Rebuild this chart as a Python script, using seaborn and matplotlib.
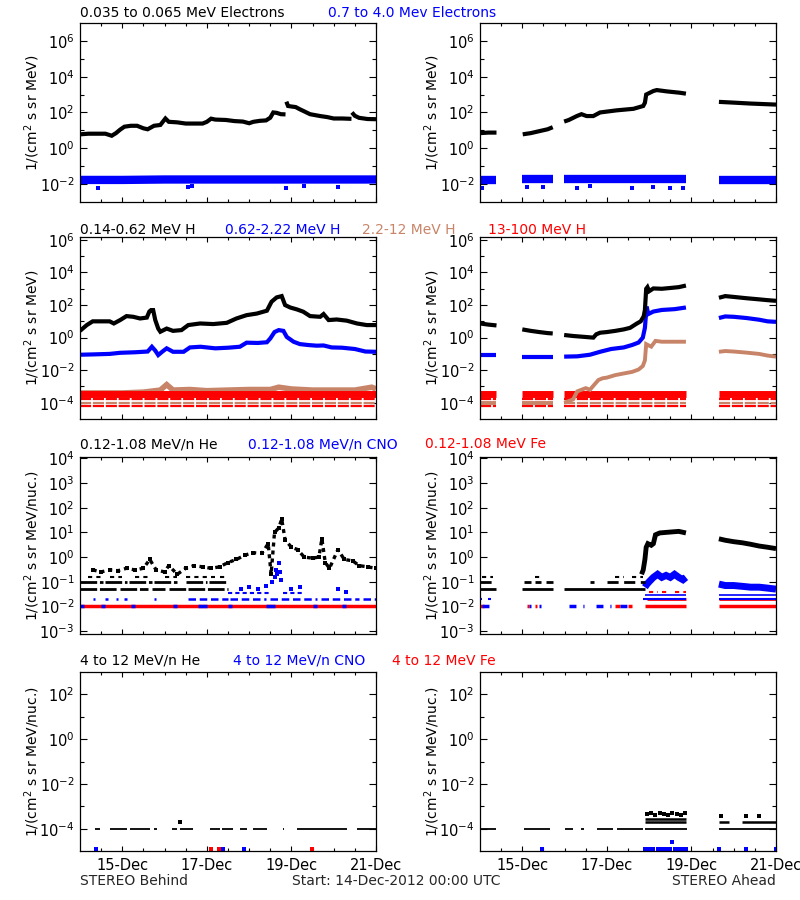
import numpy as np
import pandas as pd
import matplotlib
matplotlib.use("Agg")
import matplotlib.pyplot as plt
import seaborn as sns
from matplotlib.ticker import FixedLocator, NullFormatter, LogFormatterSciNotation

sns.set_theme(style="white")
plt.rcParams['font.family'] = ['DejaVu Sans']
plt.rcParams['mathtext.fontset'] = 'dejavusans'

nan = np.nan
BLACK, BLUE, BROWN, RED = "#000000", "#0000FF", "#C88468", "#FF0000"

# ---------------- time axis (days since 14-Dec-2012 00:00) ----------------
day_ticks = [1, 3, 5, 7]
day_labels = ["15-Dec", "17-Dec", "19-Dec", "21-Dec"]
half_day_ticks = [0.5, 1.5, 2, 2.5, 3.5, 4, 4.5, 5.5, 6, 6.5]

# ---------------- Row 1: electrons ----------------
# STEREO Behind, 0.035-0.065 MeV electrons
eB_lo_t = [0, 0.2, 0.4, 0.6, 0.75, 0.85, 0.95, 1.05, 1.2, 1.35, 1.5, 1.6, 1.75, 1.9, 2.02, 2.1, 2.3, 2.5,
           2.7, 2.9, 3.0, 3.1, 3.2, 3.45, 3.65, 3.85, 4.0, 4.1, 4.25, 4.4, 4.5, 4.57, 4.65, 4.75, 4.86, nan,
           4.88, 4.92, 5.0, 5.1, 5.2, 5.32, 5.44, 5.68, 5.85, 6.0, 6.2, 6.42, nan,
           6.43, 6.5, 6.6, 6.8, 7.0]
eB_lo_v = [6, 6.5, 6.5, 6.5, 5, 7, 11, 16, 18, 18, 13, 11.5, 18, 20, 46, 30, 28, 24,
           24, 24, 30, 45, 40, 38, 33, 31, 25, 30, 34, 36, 51, 100, 95, 80, 78, nan,
           400, 230, 215, 200, 150, 110, 80, 63, 55, 46, 46, 44, nan,
           100, 65, 50, 43, 42]
# STEREO Behind, 0.7-4.0 MeV electrons
eB_hi_t = [0, 1, 2, 3, 4, 5, 6, 7]
eB_hi_v = [0.017, 0.017, 0.018, 0.018, 0.018, 0.018, 0.018, 0.018]
eB_hi_out_t = [0.42, 2.55, 2.65, 4.88, 5.3, 6.1]
eB_hi_out_v = [0.006, 0.007, 0.008, 0.006, 0.008, 0.007]

# STEREO Ahead, 0.035-0.065 MeV electrons
eA_lo_t = [0, 0.2, 0.39, nan, 1.01, 1.2, 1.4, 1.6, 1.72, nan,
           1.99, 2.1, 2.29, 2.4, 2.52, 2.68, 2.84, 3.23, 3.63, 3.86, 3.9, 3.93, 4.1, 4.18, 4.42, 4.73, 4.87, nan,
           5.65, 5.99, 6.39, 7.0]
eA_lo_v = [7, 7.5, 7.5, nan, 6, 7, 9, 11.5, 15, nan,
           31, 38, 63, 80, 63, 63, 100, 131, 160, 230, 350, 1000, 1580, 1780, 1500, 1260, 1120, nan,
           390, 355, 315, 275]
# STEREO Ahead, 0.7-4.0 MeV electrons
eA_hi_t = [0, 0.39, nan, 1.0, 1.72, nan, 1.99, 3.0, 4.0, 4.87, nan, 5.65, 6.3, 7.0]
eA_hi_v = [0.017, 0.017, nan, 0.018, 0.018, nan, 0.018, 0.018, 0.018, 0.018, nan, 0.017, 0.017, 0.017]
eA_hi_out_t = [0.05, 1.1, 1.5, 2.3, 2.6, 3.6, 4.1, 4.5, 4.8]
eA_hi_out_v = [0.006, 0.007, 0.007, 0.006, 0.008, 0.006, 0.007, 0.006, 0.006]

# ---------------- Row 2: protons ----------------
hB_1_t = [0, 0.16, 0.3, 0.5, 0.7, 0.8, 0.95, 1.1, 1.26, 1.42, 1.58, 1.64, 1.68, 1.73, 1.78, 1.85, 1.9, 2.05,
          2.2, 2.4, 2.56, 2.84, 3.15, 3.47, 3.7, 3.94, 4.18, 4.42, 4.53, 4.65, 4.77, 4.85, 4.97, 5.13, 5.28,
          5.44, 5.68, 5.76, 5.88, 6.07, 6.31, 6.55, 6.78, 7.0]
hB_1_v = [2.6, 5.9, 10, 10, 10, 7.4, 12, 21, 19, 15, 17, 40, 49, 49, 12, 3.6, 2.3, 3.6,
          2.6, 2.9, 5.9, 7.4, 6.8, 8.1, 15, 24, 30, 45, 160, 295, 355, 100, 71, 54, 39,
          21, 19, 28, 12, 13, 11, 7.4, 5.9, 5.9]
hB_2_t = [0, 0.3, 0.7, 0.95, 1.3, 1.6, 1.7, 1.78, 1.85, 1.95, 2.05, 2.2, 2.45, 2.6, 2.85, 3.0, 3.2, 3.5,
          3.78, 3.94, 4.2, 4.42, 4.5, 4.6, 4.7, 4.81, 4.89, 5.05, 5.2, 5.4, 5.6, 5.76, 5.95, 6.2, 6.5, 6.75, 7.0]
hB_2_v = [0.089, 0.093, 0.1, 0.117, 0.126, 0.14, 0.275, 0.16, 0.085, 0.14, 0.22, 0.135, 0.135, 0.25, 0.275,
          0.25, 0.22, 0.24, 0.275, 0.49, 0.47, 0.52, 0.89, 2.2, 2.9, 2.6, 1.1, 0.56, 0.4, 0.35, 0.32, 0.33,
          0.25, 0.24, 0.2, 0.14, 0.135]
hB_3_t = [0, 1, 1.5, 1.9, 2.05, 2.2, 2.6, 3.0, 3.5, 4.0, 4.5, 4.7, 5.0, 5.5, 6.0, 6.5, 6.9, 7.0]
hB_3_v = [4e-4, 4e-4, 4.5e-4, 6e-4, 1.3e-3, 6e-4, 6.5e-4, 5.5e-4, 6e-4, 6.5e-4, 6.5e-4, 9e-4, 7e-4, 6e-4,
          6e-4, 6e-4, 9e-4, 7e-4]
hB_4_t = [0, 1, 2, 3, 4, 5, 6, 7]
hB_4_v = [3.6e-4, 3.6e-4, 3.6e-4, 3.6e-4, 3.6e-4, 3.6e-4, 3.6e-4, 3.6e-4]

hA_1_t = [0, 0.2, 0.39, nan, 1.0, 1.2, 1.4, 1.6, 1.72, nan,
          1.99, 2.2, 2.45, 2.68, 2.75, 2.84, 3.0, 3.2, 3.4, 3.55, 3.7, 3.8, 3.87, 3.9, 3.93, 3.96, 4.0, 4.1,
          4.3, 4.5, 4.7, 4.87, nan, 5.65, 5.8, 6.0, 6.3, 6.6, 6.8, 7.0]
hA_1_v = [7.4, 6.3, 5.6, nan, 3.2, 2.6, 2.2, 1.9, 1.8, nan,
          1.45, 1.26, 1.12, 1.0, 1.6, 2.0, 2.2, 2.6, 3.2, 4.0, 7.1, 10, 20, 50, 1000, 1260, 710, 1050,
          1000, 1120, 1260, 1580, nan, 280, 355, 316, 263, 224, 200, 182]
hA_2_t = [0, 0.39, nan, 1.0, 1.72, nan,
          1.99, 2.3, 2.6, 2.84, 3.1, 3.4, 3.6, 3.75, 3.85, 3.9, 3.94, 3.98, 4.1, 4.3, 4.6, 4.87, nan,
          5.65, 5.8, 6.0, 6.3, 6.6, 6.8, 7.0]
hA_2_v = [0.085, 0.085, nan, 0.068, 0.068, nan,
          0.068, 0.071, 0.089, 0.135, 0.2, 0.25, 0.355, 0.5, 1.0, 4.0, 80, 28, 40, 50, 56, 71, nan,
          16, 20, 19, 16, 12.6, 10, 9.3]
hA_3_t = [0, 0.39, nan, 1.0, 1.72, nan,
          1.99, 2.2, 2.3, 2.4, 2.5, 2.6, 2.7, 2.8, 2.9, 3.0, 3.2, 3.4, 3.6, 3.75, 3.85, 3.9, 3.93, 3.97,
          4.05, 4.15, 4.3, 4.5, 4.7, 4.87, nan, 5.65, 5.8, 6.0, 6.3, 6.6, 6.8, 7.0]
hA_3_v = [1e-4, 1e-4, nan, 1e-4, 1e-4, nan,
          1e-4, 1.6e-4, 5e-4, 6.3e-4, 7.9e-4, 6.3e-4, 1.26e-3, 2.5e-3, 3.2e-3, 3.5e-3, 5e-3, 6.3e-3, 7.9e-3,
          0.011, 0.018, 0.04, 0.4, 0.35, 0.28, 0.63, 0.56, 0.56, 0.56, 0.56, nan,
          0.135, 0.15, 0.14, 0.12, 0.1, 0.079, 0.068]
hA_4_t = [0, 0.39, nan, 1.0, 1.72, nan, 1.99, 3.0, 4.0, 4.87, nan, 5.65, 6.3, 7.0]
hA_4_v = [3.6e-4, 3.6e-4, nan, 3.6e-4, 3.6e-4, nan, 3.6e-4, 3.6e-4, 3.6e-4, 3.6e-4, nan, 3.6e-4, 3.6e-4, 3.6e-4]

# quantised low-count levels of the 2.2-12 and 13-100 MeV channels: (level, start, end)
p_levels_B = [(1.8e-4, 0, 7, RED), (1.0e-4, 0, 7, BROWN), (6.3e-5, 0, 7, RED)]
ahead_segments = [(0, 0.39), (1.0, 1.72), (1.99, 4.87), (5.65, 7.0)]

# ---------------- Row 3: 0.12-1.08 MeV/n ----------------
heB_t = [0.3, 0.5, 0.7, 0.9, 1.1, 1.3, 1.5, 1.65, 1.8, 2.0, 2.1, 2.3, 2.5, 2.7, 2.9, 3.1, 3.3, 3.5, 3.7, 3.9,
         4.1, 4.3, 4.45, 4.52, 4.6, 4.7, 4.77, 4.85, 5.0, 5.15, 5.3, 5.5, 5.65, 5.72, 5.8, 5.9, 6.1, 6.25,
         6.45, 6.6, 6.8, 7.0]
heB_v = [0.3, 0.25, 0.3, 0.28, 0.35, 0.3, 0.35, 0.8, 0.3, 0.25, 0.45, 0.2, 0.35, 0.45, 0.4, 0.35, 0.4, 0.6,
         0.8, 1.2, 1.5, 1.4, 3.5, 0.2, 10, 15, 35, 5, 2.5, 2, 1.0, 0.9, 1.0, 5.5, 0.6, 0.35, 2.0, 0.8,
         0.7, 0.45, 0.4, 0.35]
heB_lvl_016 = [(0.2, 0.5), (0.7, 1.0), (1.3, 1.6), (2.0, 2.3), (2.5, 3.2), (3.3, 3.5)]
heB_lvl_01 = [(0, 0.55), (0.6, 1.1), (1.15, 1.7), (1.75, 2.3), (2.5, 3.0), (3.05, 3.45)]
heB_lvl_005 = [(0, 0.9), (0.95, 1.6), (1.7, 2.0), (2.1, 2.5), (2.55, 3.5)]
cnoB_t = [4.55, 4.6, 4.63, 4.66, 4.7, 4.72, 4.75, 3.8, 4.0, 4.2, 4.4, 5.0, 5.2, 6.1, 6.3]
cnoB_v = [0.1, 0.15, 0.3, 0.2, 0.6, 0.25, 0.12, 0.05, 0.06, 0.05, 0.07, 0.05, 0.06, 0.05, 0.04]
cnoB_lvl_002 = [(0.3, 0.36), (0.6, 0.66), (0.85, 0.9), (1.05, 1.1), (1.75, 1.8), (2.55, 3.5), (3.55, 4.4),
                (4.5, 5.6), (5.7, 6.6), (6.7, 7.0)]
cnoB_lvl_0035 = [(3.5, 4.5), (4.8, 5.3)]
cnoB_lvl_001 = [(0, 0.1), (0.5, 0.6), (1.2, 1.3), (2.2, 2.3), (2.8, 3.0), (3.5, 3.6), (4.4, 4.6), (5.5, 5.6),
                (6.2, 6.3)]
feB_lvl_001 = [(0, 7.0)]

heA_t = [3.82, 3.86, 3.9, 3.93, 3.97, 4.05, 4.1, 4.15, 4.25, 4.4, 4.55, 4.7, 4.87, nan,
         5.65, 5.8, 6.0, 6.2, 6.4, 6.6, 6.8, 7.0]
heA_v = [0.2, 0.3, 0.8, 2.5, 3.5, 3, 3.5, 8, 9.5, 10, 10.5, 11, 9.5, nan,
         5.5, 4.8, 4.2, 3.8, 3.3, 2.8, 2.5, 2.2]
heA_lvl_016 = [(0.05, 0.3), (1.3, 1.5), (3.2, 3.4), (3.6, 3.85)]
heA_lvl_01 = [(0, 0.39), (1.05, 1.2), (1.3, 1.45), (1.55, 1.72), (2.6, 2.7), (3.0, 3.9)]
heA_lvl_005 = [(0, 0.39), (1.0, 1.72), (1.99, 3.9)]
cnoA_t = [3.9, 3.95, 4.0, 4.1, 4.2, 4.3, 4.4, 4.5, 4.6, 4.7, 4.8, 4.87, nan,
          5.65, 5.8, 6.0, 6.2, 6.4, 6.6, 6.8, 7.0]
cnoA_v = [0.06, 0.08, 0.1, 0.15, 0.2, 0.15, 0.18, 0.15, 0.2, 0.15, 0.12, 0.15, nan,
          0.08, 0.07, 0.07, 0.065, 0.06, 0.06, 0.055, 0.05]
cnoA_lvl_003 = [(3.9, 4.87), (5.65, 7.0)]
cnoA_lvl_002 = [(0.0, 0.05), (0.2, 0.25), (3.85, 4.87), (5.65, 7.0)]
cnoA_lvl_001 = [(0.05, 0.35), (1.15, 1.2), (1.4, 1.45), (2.1, 2.45), (2.75, 3.1), (3.3, 3.6)]
feA_lvl_001 = [(0, 0.1), (1.1, 1.15), (1.3, 1.35), (3.2, 3.3), (3.5, 3.6), (3.9, 4.87), (5.65, 7.0)]
feA_lvl_002 = [(3.95, 4.87), (5.65, 7.0)]
feA_lvl_004 = [(4.0, 4.2), (4.3, 4.5), (4.6, 4.87)]

# ---------------- Row 4: 4-12 MeV/n ----------------
he4B_lvl = [(0.35, 0.47), (0.71, 1.1), (1.18, 1.66), (1.74, 1.81), (2.17, 2.29), (2.37, 2.68), (3.08, 3.31),
            (3.35, 3.63), (3.79, 3.94), (4.1, 4.42), (4.8, 4.83), (5.13, 6.31), (6.55, 7.0)]
he4B_pt_t = [2.37]
he4B_pt_v = [2.0e-4]
cno4B_t = [0.39, 3.3, 3.37, 3.89]
cno4B_v = [1.2e-5, 1.2e-5, 1.2e-5, 1.2e-5]
fe4B_t = [3.1, 3.28, 5.48]
fe4B_v = [1.2e-5, 1.2e-5, 1.2e-5]

he4A_lvl = [(0, 0.39), (1.03, 1.66), (2.0, 2.2), (2.4, 2.45), (2.76, 3.15), (3.23, 3.86), (3.9, 4.89),
            (5.65, 7.0)]
he4A_lvl2 = [(3.9, 4.87), (5.65, 5.9), (6.2, 7.0)]
he4A_lvl3 = [(3.9, 4.87)]
he4A_pts_t = [3.95, 4.05, 4.15, 4.25, 4.35, 4.45, 4.55, 4.65, 4.75, 4.85, 5.7, 6.3, 6.6]
he4A_pts_v = [4.5e-4, 5e-4, 4e-4, 5e-4, 4.5e-4, 4e-4, 5e-4, 4.5e-4, 4e-4, 5e-4, 3.5e-4, 3.5e-4, 3.5e-4]
cno4A_t = [1.47, 3.9, 4.0, 4.1, 4.2, 4.3, 4.4, 4.5, 4.55, 4.6, 4.7, 4.8, 4.87, 5.65, 6.3, 7.0]
cno4A_v = [1.2e-5, 1.2e-5, 1.2e-5, 1.2e-5, 1.2e-5, 1.2e-5, 1.2e-5, 1.2e-5, 2.5e-5, 1.2e-5, 1.2e-5, 1.2e-5,
           1.2e-5, 1.2e-5, 1.2e-5, 1.2e-5]

titles = [
    [("0.035 to 0.065 MeV Electrons", BLACK, 80), ("0.7 to 4.0 Mev Electrons", BLUE, 328)],
    [("0.14-0.62 MeV H", BLACK, 80), ("0.62-2.22 MeV H", BLUE, 225), ("2.2-12 MeV H", BROWN, 362),
     ("13-100 MeV H", RED, 488)],
    [("0.12-1.08 MeV/n He", BLACK, 80), ("0.12-1.08 MeV/n CNO", BLUE, 248), ("0.12-1.08 MeV Fe", RED, 425)],
    [("4 to 12 MeV/n He", BLACK, 80), ("4 to 12 MeV/n CNO", BLUE, 233), ("4 to 12 MeV Fe", RED, 392)],
]
ylab1 = "1/(cm$^2$ s sr MeV)"
ylab2 = "1/(cm$^2$ s sr MeV/nuc.)"


# ---------------- helpers ----------------
def trace(ax, t, v, color, lw, ls="-"):
    t = np.asarray(t, float)
    v = np.asarray(v, float)
    seg = np.cumsum(np.isnan(v))
    df = pd.DataFrame({"t": t, "v": v, "seg": seg}).dropna()
    sns.lineplot(data=df, x="t", y="v", units="seg", estimator=None, sort=False, color=color,
                 lw=lw, linestyle=ls, solid_capstyle="butt", dash_capstyle="butt",
                 solid_joinstyle="miter", ax=ax, legend=False)


def level(ax, spans, y, color, lw, ls="-"):
    t, v = [], []
    for a, b in spans:
        t += [a, b, nan]
        v += [y, y, nan]
    trace(ax, t, v, color, lw, ls)


def dots(ax, t, v, color, s=6):
    sns.scatterplot(x=t, y=v, color=color, marker="s", s=s, linewidth=0, ax=ax, legend=False)


fig = plt.figure(figsize=(8, 9), dpi=100)
W = 0.37
rows = [(0.7756, 0.1989), (0.5344, 0.2022), (0.2956, 0.1967), (0.0544, 0.1989)]
axes = [[fig.add_axes([0.10, y, W, h]), fig.add_axes([0.60, y, W, h])] for y, h in rows]

# Row 1
a, b = axes[0]
trace(a, eB_hi_t, eB_hi_v, BLUE, 6.0)
dots(a, eB_hi_out_t, eB_hi_out_v, BLUE, 5)
trace(a, eB_lo_t, eB_lo_v, BLACK, 3.0)
trace(b, eA_hi_t, eA_hi_v, BLUE, 6.0)
dots(b, eA_hi_out_t, eA_hi_out_v, BLUE, 5)
trace(b, eA_lo_t, eA_lo_v, BLACK, 3.0)

# Row 2
a, b = axes[1]
trace(a, hB_3_t, hB_3_v, BROWN, 4)
trace(a, hB_4_t, hB_4_v, RED, 5)
for y, s0, s1, c in p_levels_B:
    level(a, [(s0, s1)], y, c, 1.6, (0, (5, 0.8)))
trace(a, hB_2_t, hB_2_v, BLUE, 3.0)
trace(a, hB_1_t, hB_1_v, BLACK, 3.0)
trace(b, hA_4_t, hA_4_v, RED, 5)
for y, s0, s1, c in p_levels_B:
    level(b, ahead_segments, y, c, 1.6, (0, (5, 0.8)))
trace(b, hA_3_t, hA_3_v, BROWN, 2.8)
trace(b, hA_2_t, hA_2_v, BLUE, 3.0)
trace(b, hA_1_t, hA_1_v, BLACK, 3.0)

# Row 3
a, b = axes[2]
level(a, feB_lvl_001, 0.01, RED, 2.5)
level(a, cnoB_lvl_001, 0.01, BLUE, 2.5)
level(a, cnoB_lvl_002, 0.02, BLUE, 1.8, (0, (3, 1.5)))
level(a, cnoB_lvl_0035, 0.035, BLUE, 1.5, (0, (2, 1.5)))
level(a, heB_lvl_005, 0.05, BLACK, 2.0, (0, (6, 1)))
level(a, heB_lvl_01, 0.1, BLACK, 2.0, (0, (6, 1)))
level(a, heB_lvl_016, 0.16, BLACK, 1.5, (0, (2, 2)))
dots(a, cnoB_t, cnoB_v, BLUE, 7)
trace(a, heB_t, heB_v, BLACK, 2.4, (0, (1.2, 1.2)))
dots(a, heB_t, heB_v, BLACK, 8)

level(b, feA_lvl_001, 0.01, RED, 2.5)
level(b, cnoA_lvl_001, 0.01, BLUE, 2.5, (0, (2, 2)))
level(b, feA_lvl_002, 0.02, RED, 2.0)
level(b, cnoA_lvl_002, 0.02, BLUE, 1.5)
level(b, cnoA_lvl_003, 0.03, BLUE, 1.2)
level(b, feA_lvl_004, 0.04, RED, 1.5, (0, (2, 2)))
trace(b, cnoA_t, cnoA_v, BLUE, 5)
level(b, heA_lvl_005, 0.05, BLACK, 2.0)
level(b, heA_lvl_01, 0.1, BLACK, 2.0, (0, (4, 2)))
level(b, heA_lvl_016, 0.16, BLACK, 1.5, (0, (2, 2)))
trace(b, heA_t, heA_v, BLACK, 3.5)

# Row 4
a, b = axes[3]
level(a, he4B_lvl, 1e-4, BLACK, 1.3)
dots(a, he4B_pt_t, he4B_pt_v, BLACK, 6)
dots(a, cno4B_t, cno4B_v, BLUE, 6)
dots(a, fe4B_t, fe4B_v, RED, 6)
level(b, he4A_lvl, 1e-4, BLACK, 1.3)
level(b, he4A_lvl2, 2e-4, BLACK, 1.8)
level(b, he4A_lvl3, 2.7e-4, BLACK, 1.8)
dots(b, he4A_pts_t, he4A_pts_v, BLACK, 8)
dots(b, cno4A_t, cno4A_v, BLUE, 6)

# ---------------- axes styling ----------------
ycfg = [
    ((1e-3, 1e7), [1e-2, 1e0, 1e2, 1e4, 1e6], [1e-1, 1e1, 1e3, 1e5], ylab1),
    ((1e-5, 1.5e6), [1e-4, 1e-2, 1e0, 1e2, 1e4, 1e6], [1e-3, 1e-1, 1e1, 1e3, 1e5], ylab1),
    ((7.6e-4, 1.15e4), [1e-3, 1e-2, 1e-1, 1e0, 1e1, 1e2, 1e3, 1e4], [], ylab2),
    ((1e-5, 1e3), [1e-4, 1e-2, 1e0, 1e2], [1e-3, 1e-1, 1e1], ylab2),
]
for r, (ylim, major, minor, ylab) in enumerate(ycfg):
    for ax in axes[r]:
        ax.set_yscale("log")
        ax.set_xlim(0, 7)
        ax.set_ylim(*ylim)
        ax.yaxis.set_major_locator(FixedLocator(major))
        ax.yaxis.set_minor_locator(FixedLocator(minor))
        ax.yaxis.set_major_formatter(LogFormatterSciNotation())
        ax.yaxis.set_minor_formatter(NullFormatter())
        ax.xaxis.set_major_locator(FixedLocator(day_ticks))
        ax.xaxis.set_minor_locator(FixedLocator(half_day_ticks))
        ax.tick_params(axis="both", which="both", direction="in", top=True, right=True,
                       bottom=True, left=True, colors="black")
        ax.tick_params(axis="y", which="major", length=5, width=0.8, labelsize=10.5, pad=4)
        ax.tick_params(axis="y", which="minor", length=2.6, width=0.8)
        ax.tick_params(axis="x", which="major", length=3.8, width=0.8, labelsize=10.5, pad=5)
        ax.tick_params(axis="x", which="minor", length=2.4, width=0.8)
        if r == 3:
            ax.set_xticklabels(day_labels)
        else:
            ax.tick_params(axis="x", labelbottom=False)
        ax.set_xlabel("")
        ax.set_ylabel(ylab, fontsize=10, color="black")
        ax.yaxis.set_label_coords(-0.128, 0.5)
        ax.set_facecolor("white")
        for sp in ax.spines.values():
            sp.set_visible(True)
            sp.set_color("black")
            sp.set_linewidth(0.9)

title_y = [13, 230, 444, 661]
for r, items in enumerate(titles):
    for txt, col, xpx in items:
        fig.text(xpx / 800, 1 - title_y[r] / 900, txt, color=col, fontsize=10, ha="left", va="center")

fig.text(80 / 800, 1 - 881 / 900, "STEREO Behind", fontsize=10, ha="left", va="center")
fig.text(292 / 800, 1 - 881 / 900, "Start: 14-Dec-2012 00:00 UTC", fontsize=10, ha="left", va="center")
fig.text(776 / 800, 1 - 881 / 900, "STEREO Ahead", fontsize=10, ha="right", va="center")

fig.savefig("out.png", dpi=100, facecolor="white")
